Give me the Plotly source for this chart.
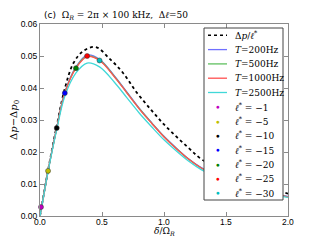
import plotly.graph_objects as go

# ---- data ----
delta = [0, 0.065, 0.135, 0.2, 0.29, 0.38, 0.48, 0.6, 0.7, 0.8, 0.9, 1.0, 1.1, 1.2, 1.3, 1.5, 1.75, 2.0]
T200 = [0, 0.0141, 0.0276, 0.0386, 0.0466, 0.0503, 0.0490, 0.0438, 0.0388, 0.0337, 0.0292, 0.0249, 0.0212, 0.0178, 0.0151, 0.0113, 0.0081, 0.0061]
T500 = [0, 0.0141, 0.0275, 0.0385, 0.0464, 0.0500, 0.0488, 0.0436, 0.0386, 0.0336, 0.0291, 0.0248, 0.0211, 0.0177, 0.0150, 0.0112, 0.0080, 0.0060]
T1000 = [0, 0.0141, 0.0275, 0.0384, 0.0462, 0.0498, 0.0486, 0.0435, 0.0385, 0.0335, 0.0290, 0.0247, 0.0210, 0.0177, 0.0150, 0.0112, 0.0080, 0.0060]
T2500 = [0, 0.0139, 0.0270, 0.0374, 0.0447, 0.0478, 0.0466, 0.0418, 0.0370, 0.0322, 0.0279, 0.0238, 0.0203, 0.0171, 0.0145, 0.0108, 0.0077, 0.0058]

delta_d = [0, 0.065, 0.135, 0.2, 0.27, 0.35, 0.45, 0.56, 0.67, 0.78, 0.9, 1.0, 1.1, 1.2, 1.3, 1.5, 1.75, 2.0]
dp_over_l = [0, 0.0143, 0.0282, 0.0398, 0.0478, 0.0516, 0.0528, 0.0492, 0.0447, 0.0386, 0.0330, 0.0286, 0.0248, 0.0212, 0.0178, 0.0132, 0.0096, 0.0070]

ell_star = [-1, -5, -10, -15, -20, -25, -30]
ell_x = [0.008, 0.065, 0.135, 0.2, 0.29, 0.38, 0.48]
ell_y = [0.0028, 0.0141, 0.0275, 0.0384, 0.0462, 0.0500, 0.0486]
ell_colors = ['#bf00bf', '#bfbf00', '#000000', '#0000ff', '#008000', '#ff0000', '#00bfbf']

T_labels = ['200', '500', '1000', '2500']
T_series = [T200, T500, T1000, T2500]
T_colors = ['#7070ff', '#60c060', '#ff5050', '#40d8d8']

x_ticks = [0, 0.5, 1.0, 1.5, 2.0]
y_ticks = [0, 0.01, 0.02, 0.03, 0.04, 0.05, 0.06]

# ---- figure ----
# page has an 8px body margin; plot area should sit at page x 40..288, y 24..216
OFF = 8
W, H = 320, 240
L, T = 40 - OFF, 24 - OFF
R, B = W - (288 - OFF), H - (216 - OFF)
DASH = '3px,3px'
fig = go.Figure()

fig.add_trace(go.Scatter(x=delta_d, y=dp_over_l, mode='lines', line=dict(color='black', dash=DASH, width=1.8, shape='spline'), showlegend=False))
for ys, c in zip(T_series, T_colors):
    fig.add_trace(go.Scatter(x=delta, y=ys, mode='lines', line=dict(color=c, width=1.3, shape='spline'), showlegend=False))
for xv, yv, c in zip(ell_x, ell_y, ell_colors):
    fig.add_trace(go.Scatter(x=[xv], y=[yv], mode='markers', marker=dict(color=c, size=5, line=dict(color='#333', width=0.5)), showlegend=False, cliponaxis=False))

tickfont = dict(family='Liberation Sans', size=8.5, color='black')
axis_common = dict(showgrid=False, zeroline=False, showline=True, linecolor='#8a8a8a', linewidth=1.2,
                   ticks='inside', ticklen=4, tickcolor='#8a8a8a', mirror='ticks', tickfont=tickfont)
fig.update_xaxes(range=[0, 2], tickvals=x_ticks, showticklabels=False, **axis_common)
fig.update_yaxes(range=[0, 0.06], tickvals=y_ticks, ticktext=[f'{v:.2f}' for v in y_ticks], **axis_common)

# ---- helpers: page pixel -> paper coords ----
pw, ph = 248, 192
def px(xp):
    return (xp - 40) / pw
def py(yp):
    return (216 - yp) / ph

shapes = [dict(type='rect', xref='paper', yref='paper', x0=px(204), x1=px(283), y0=py(200), y1=py(28),
               fillcolor='white', line=dict(color='#444', width=1), layer='above')]
annotations = []
# x tick labels placed just under the axis (matplotlib spacing)
for v in x_ticks:
    annotations.append(dict(xref='x', yref='paper', x=v, y=py(221.5), text=f'{v:.1f}', showarrow=False,
                            font=tickfont, xanchor='center', yanchor='middle'))
entries = [('Δ<i>p</i>/<i>ℓ</i><sup>*</sup>', 'dash', 'black')]
entries += [(f'<i>T</i>={t}Hz', 'solid', c) for t, c in zip(T_labels, T_colors)]
entries += [(f'<i>ℓ</i><sup>*</sup> = −{abs(e)}', 'marker', c) for e, c in zip(ell_star, ell_colors)]
y0, step = 35.3, 14.3
for i, (lab, kind, c) in enumerate(entries):
    yc = y0 + i * step
    if kind == 'marker':
        annotations.append(dict(xref='paper', yref='paper', x=px(217.5), y=py(yc), text='●', showarrow=False,
                                font=dict(size=6.5, color=c), xanchor='center', yanchor='middle'))
    else:
        shapes.append(dict(type='line', xref='paper', yref='paper', x0=px(208), x1=px(227), y0=py(yc), y1=py(yc),
                           line=dict(color=c, width=1.5 if kind == 'dash' else 1.3, dash=DASH if kind == 'dash' else 'solid'),
                           layer='above'))
    annotations.append(dict(xref='paper', yref='paper', x=px(233), y=py(yc), text=lab, showarrow=False,
                            font=dict(family='DejaVu Serif', size=9, color='black'), xanchor='left', yanchor='middle'))

# title and axis labels
annotations.append(dict(xref='paper', yref='paper', x=px(42), y=py(15), xanchor='left', yanchor='middle', showarrow=False,
                        text='(c)\u00a0\u00a0<span style="font-family:DejaVu Serif">Ω<sub><i>R</i></sub> = 2π × 100 kHz,\u00a0\u00a0Δ<i>ℓ</i>=50</span>',
                        font=dict(family='DejaVu Sans', size=9, color='black')))
annotations.append(dict(xref='paper', yref='paper', x=px(14), y=py(120), xanchor='center', yanchor='middle', showarrow=False,
                        textangle=-90, text='Δ<i>p</i>−Δ<i>p</i><sub>0</sub>',
                        font=dict(family='DejaVu Serif', size=10, color='black')))
annotations.append(dict(xref='paper', yref='paper', x=px(164), y=py(231), xanchor='center', yanchor='middle', showarrow=False,
                        text='<i>δ</i>/Ω<sub><i>R</i></sub>',
                        font=dict(family='DejaVu Serif', size=9, color='black')))

fig.update_layout(width=W, height=H, margin=dict(l=L, r=R, t=T, b=B), plot_bgcolor='white', paper_bgcolor='white',
                  shapes=shapes, annotations=annotations, showlegend=False)

fig.write_html('out.html')
